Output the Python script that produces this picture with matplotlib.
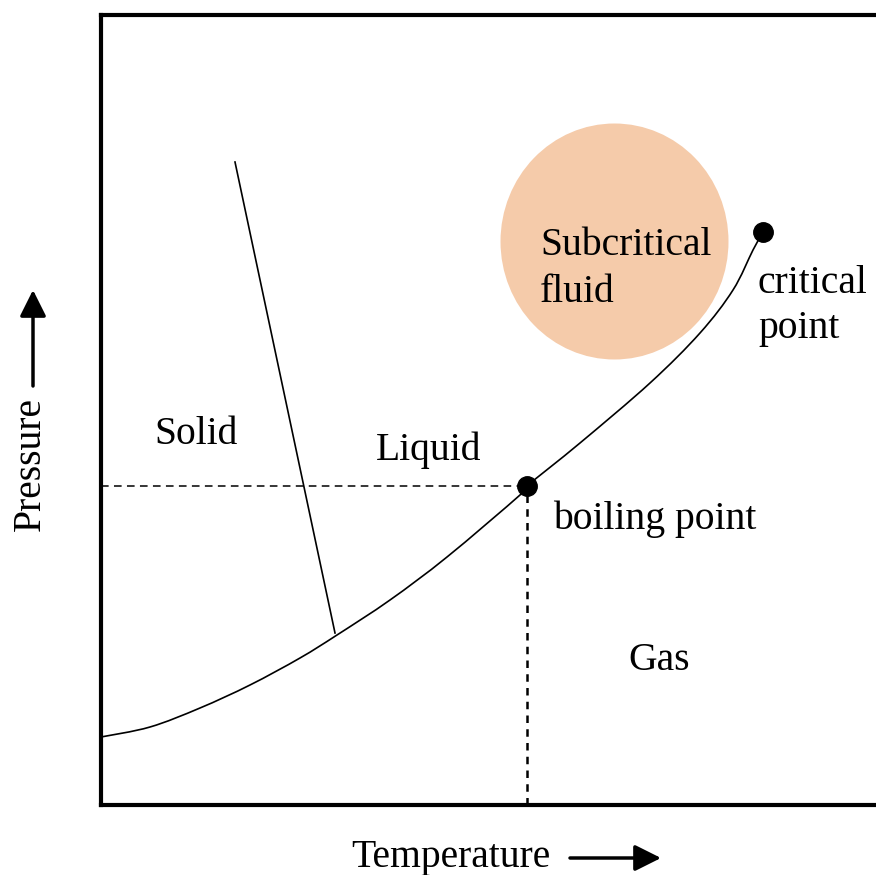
import matplotlib
matplotlib.use("Agg")
import matplotlib.pyplot as plt
from matplotlib.patches import Ellipse, PathPatch, FancyArrowPatch
from matplotlib.path import Path
import numpy as np

# Data in image-derived units: temperature = px - 101, pressure = 805 - py
vap_T = [0, 49, 99, 149, 199, 236, 289, 346, 419, 426, 479, 549, 599, 632, 652, 662]
vap_P = [68, 78, 97, 120, 147, 170, 205, 248, 310, 319, 362, 422, 472, 515, 555, 573]
melt_T = [134, 234]
melt_P = [643, 172]
boil_T, boil_P = 426, 319
crit_T, crit_P = 662, 573
circle_T, circle_P = 513.5, 563.5
circle_w, circle_h = 228, 236

labels = {
    "Solid": (95, 371),
    "Liquid": (328, 355),
    "Gas": (558, 144),
}

W, H = 876, 875
fig = plt.figure(figsize=(W / 100, H / 100), dpi=100)
ax = fig.add_axes([101 / W, 70 / H, (885 - 101) / W, 790 / H])
ax.set_xlim(0, 784)
ax.set_ylim(0, 790)
ax.set_xticks([])
ax.set_yticks([])
for s in ax.spines.values():
    s.set_linewidth(3.0)
    s.set_color("black")

plt.rcParams["font.family"] = ["Liberation Serif", "DejaVu Serif"]
fs = 28.5

ax.add_patch(Ellipse((circle_T, circle_P), circle_w, circle_h,
                     facecolor="#F5CBAA", edgecolor="none", zorder=1))

# smooth rendering of the vapour-pressure curve through the read points
pts = np.column_stack([vap_T, vap_P]).astype(float)
verts = [tuple(pts[0])]
codes = [Path.MOVETO]
n = len(pts)
for i in range(n - 1):
    p0 = pts[i - 1] if i > 0 else pts[i]
    p1, p2 = pts[i], pts[i + 1]
    p3 = pts[i + 2] if i + 2 < n else pts[i + 1]
    c1 = p1 + (p2 - p0) / 6.0
    c2 = p2 - (p3 - p1) / 6.0
    verts += [tuple(c1), tuple(c2), tuple(p2)]
    codes += [Path.CURVE4] * 3
ax.add_patch(PathPatch(Path(verts, codes), facecolor="none",
                       edgecolor="black", lw=1.2, zorder=3))

ax.plot(melt_T, melt_P, color="black", lw=1.2, zorder=3)
ax.plot([0, boil_T], [boil_P, boil_P], color="black", lw=1.1,
        dashes=(5, 3.5), zorder=2)
ax.plot([boil_T, boil_T], [0, boil_P], color="black", lw=1.8,
        dashes=(3, 2.5), zorder=2)
ax.plot([boil_T, crit_T], [boil_P, crit_P], ls="none", marker="o",
        ms=14, color="black", zorder=4)

tk = dict(fontsize=fs, family=["Liberation Serif", "DejaVu Serif"], color="black")
for name, (t, p) in labels.items():
    ax.text(t, p, name, ha="center", va="center", **tk)
ax.text(439, 536, "Subcritical\nfluid", ha="left", va="center",
        linespacing=1.35, **tk)
ax.text(657, 499, "critical\npoint", ha="left", va="center",
        linespacing=1.3, **tk)
ax.text(452, 286, "boiling point", ha="left", va="center", **tk)

# Axis labels with arrows (figure pixel coordinates)
fig.text(451 / W, 1 - 857 / H, "Temperature", ha="center", va="center", **tk)
fig.text(30 / W, 1 - 464 / H, "Pressure", ha="center", va="center",
         rotation=90, **tk)
ap = dict(arrowstyle="-|>,head_length=0.8,head_width=0.4", color="black",
          lw=2.5, shrinkA=0, shrinkB=0)
fig.add_artist(FancyArrowPatch(
    (570 / W, 1 - 858 / H), (661 / W, 1 - 858 / H),
    transform=fig.transFigure, mutation_scale=20, **ap))
fig.add_artist(FancyArrowPatch(
    (33 / W, 1 - 386 / H), (33 / W, 1 - 290 / H),
    transform=fig.transFigure, mutation_scale=20, **ap))

fig.savefig("out.png", dpi=100)
